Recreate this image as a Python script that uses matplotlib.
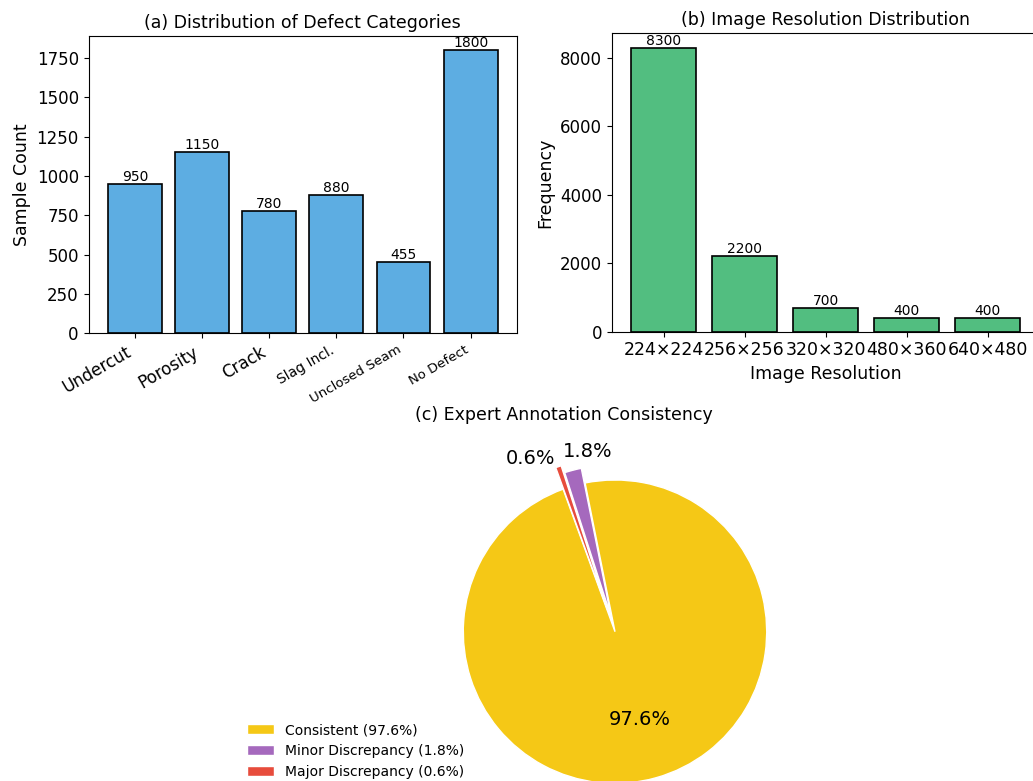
import matplotlib
matplotlib.use("Agg")
import matplotlib.pyplot as plt

# defect category counts
defect_names = ["Undercut", "Porosity", "Crack", "Slag Incl.", "Unclosed Seam", "No Defect"]
defect_counts = [950, 1150, 780, 880, 455, 1800]
defect_label_sizes = [12, 12, 12, 10, 9.5, 9.5]

# image resolutions
resolutions = ["224×224", "256×256", "320×320", "480×360", "640×480"]
resolution_freq = [8300, 2200, 700, 400, 400]

# expert agreement
consistency_names = ["Consistent", "Minor Discrepancy", "Major Discrepancy"]
consistency_share = [97.6, 1.8, 0.6]
consistency_colors = ["#F5C816", "#A569BD", "#E74C3C"]

W, H = 1033, 781
fig = plt.figure(figsize=(W / 100, H / 100), dpi=100)


def px_axes(x0, y0, x1, y1):
    # pixel box (top-left origin) -> figure fraction
    return [x0 / W, 1 - y1 / H, (x1 - x0) / W, (y1 - y0) / H]


# (a) defect categories
ax1 = fig.add_axes(px_axes(88.5, 36, 517, 333.3))
bars1 = ax1.bar(defect_names, defect_counts, color="#5DADE2", edgecolor="black", linewidth=1.2)
ax1.bar_label(bars1, fontsize=10)
ax1.set_title("(a) Distribution of Defect Categories", fontsize=12.5)
ax1.set_ylabel("Sample Count", fontsize=12.5)
ax1.tick_params(axis="y", labelsize=12)
ax1.set_xticks(range(len(defect_names)))
ax1.set_xticklabels(defect_names, rotation=30, ha="right")
for lbl, fs in zip(ax1.get_xticklabels(), defect_label_sizes):
    lbl.set_fontsize(fs)

# (b) resolutions -- right edge runs past the canvas
ax2 = fig.add_axes(px_axes(611.7, 33.5, 1039.4, 331.7))
bars2 = ax2.bar(resolutions, resolution_freq, color="#52BE80", edgecolor="black", linewidth=1.2)
ax2.bar_label(bars2, fontsize=10)
ax2.set_title("(b) Image Resolution Distribution", fontsize=12.5)
ax2.set_xlabel("Image Resolution", fontsize=12.5)
ax2.set_ylabel("Frequency", fontsize=12.5)
ax2.tick_params(axis="y", labelsize=12)
ax2.tick_params(axis="x", labelsize=12.5)

# (c) annotation consistency
cx, cy, r = 615, 631.7, 151.7
half = 1.25 * r
ax3 = fig.add_axes(px_axes(cx - half, cy - half, cx + half, cy + half))
wedges, _, autotexts = ax3.pie(
    consistency_share,
    colors=consistency_colors,
    explode=(0, 0.1, 0.15),
    startangle=110,
    autopct="%1.1f%%",
    pctdistance=0.6,
    textprops={"fontsize": 14},
    wedgeprops={"edgecolor": "white", "linewidth": 1},
)
# pull the thin-slice percentages apart so they do not collide
autotexts[1].set_position((-0.181, 1.191))
autotexts[2].set_position((-0.557, 1.145))

ax3.text(0.365, 1.071, "(c) Expert Annotation Consistency", transform=ax3.transAxes,
         ha="center", va="center", fontsize=12.5)

legend_labels = [f"{n} ({v}%)" for n, v in zip(consistency_names, consistency_share)]
ax3.legend(wedges, legend_labels, loc="upper left", bbox_to_anchor=(241 / W, 1 - 717.5 / H),
           bbox_transform=fig.transFigure, borderaxespad=0, frameon=False, fontsize=10)

fig.savefig("out.png", dpi=100)
